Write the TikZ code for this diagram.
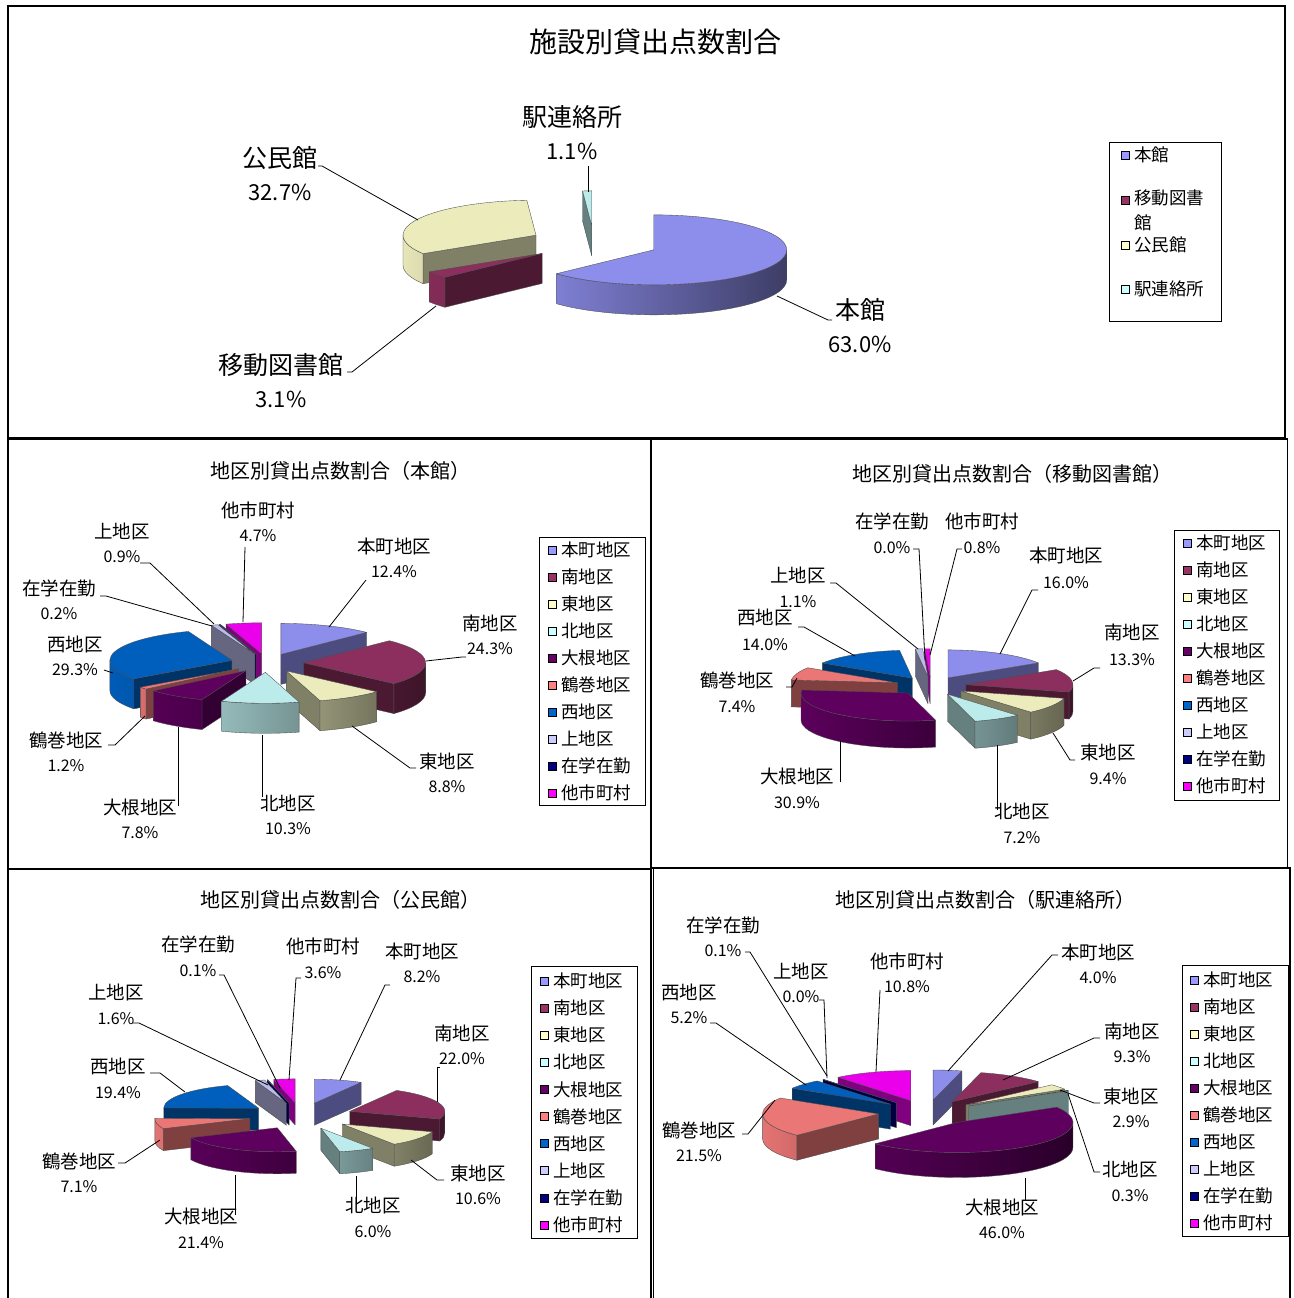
\documentclass[tikz,border=0pt]{standalone}
\usepackage{fontspec}
\setmainfont{Noto Sans CJK JP}
\definecolor{cA}{HTML}{9999FF}
\definecolor{cB}{HTML}{993366}
\definecolor{cC}{HTML}{FFFFCC}
\definecolor{cD}{HTML}{CCFFFF}
\definecolor{cE}{HTML}{660066}
\definecolor{cF}{HTML}{FF8080}
\definecolor{cG}{HTML}{0066CC}
\definecolor{cH}{HTML}{CCCCFF}
\definecolor{cI}{HTML}{000080}
\definecolor{cJ}{HTML}{FF00FF}
\newcommand\setpie[6]{\def\pCx{#1}\def\pCy{#2}\def\pRx{#3}\def\pRy{#4}\def\pDp{#5}\def\pE{#6}}
\newcommand\pslice[3]{%
  \pgfmathsetmacro\pMid{(#1+#2)/2}%
  \pgfmathsetmacro\pAx{\pCx+\pE*\pRx*cos(\pMid)}%
  \pgfmathsetmacro\pAy{\pCy+\pE*\pRy*sin(\pMid)}%
  \pgfmathsetmacro\pSx{\pAx+\pRx*cos(#1)}%
  \pgfmathsetmacro\pSy{\pAy+\pRy*sin(#1)}%
  \pgfmathsetmacro\pEx{\pAx+\pRx*cos(#2)}%
  \pgfmathsetmacro\pEy{\pAy+\pRy*sin(#2)}%
  \pgfmathtruncatemacro\pT{cos(#1) < -0.001 ? 1 : 0}%
  \ifnum\pT=1
    \filldraw[face,fill=#3!50!black] (\pAx,\pAy) -- (\pSx,\pSy) -- (\pSx,\pSy-\pDp) -- (\pAx,\pAy-\pDp) -- cycle;
  \fi
  \pgfmathtruncatemacro\pT{cos(#2) > 0.001 ? 1 : 0}%
  \ifnum\pT=1
    \filldraw[face,fill=#3!50!black] (\pAx,\pAy) -- (\pEx,\pEy) -- (\pEx,\pEy-\pDp) -- (\pAx,\pAy-\pDp) -- cycle;
  \fi
  \pgfmathsetmacro\pLo{max(#2,-180)}%
  \pgfmathsetmacro\pHi{min(#1,0)}%
  \pgfmathtruncatemacro\pT{\pHi > \pLo+0.01 ? 1 : 0}%
  \ifnum\pT=1
    \pgfmathtruncatemacro\pTl{40+25*(1-cos(\pLo))}%
    \pgfmathtruncatemacro\pTr{40+25*(1-cos(\pHi))}%
    \pgfmathsetmacro\pLx{\pAx+\pRx*cos(\pLo)}%
    \pgfmathsetmacro\pLy{\pAy+\pRy*sin(\pLo)}%
    \draw[face,left color=#3!\pTl!black,right color=#3!\pTr!black] (\pLx,\pLy) arc[start angle=\pLo,end angle=\pHi,x radius=\pRx pt,y radius=\pRy pt] -- ++(0,-\pDp) arc[start angle=\pHi,end angle=\pLo,x radius=\pRx pt,y radius=\pRy pt] -- cycle;
  \fi
  \filldraw[face,fill=#3!92!black] (\pAx,\pAy) -- (\pSx,\pSy) arc[start angle=#1,end angle=#2,x radius=\pRx pt,y radius=\pRy pt] -- cycle;
}
\newcommand\labA[5]{\node[nmA] (#1n) at (#2,-#3) {#4};\node[pcA] (#1p) at (#2,-#3-34) {#5};}
\newcommand\labB[6]{\node[nmB] (#1n) at (#2,-#3) {#4};\node[pcB] (#1p) at (#2,{-#3-#6}) {#5};}
\newcommand\legendten[4]{%
  \foreach \nm/\col [count=\i from 0] in {本町地区/cA,南地区/cB,東地区/cC,北地区/cD,大根地区/cE,鶴巻地区/cF,西地区/cG,上地区/cH,在学在勤/cI,他市町村/cJ}{
    \node[lsq,fill=\col] (#1s\i) at (#2,{-#3-\i*#4}) {};
    \node[lgt] (#1t\i) at (#2+9,{-#3-\i*#4}) {\nm};
  }}
\begin{document}
\begin{tikzpicture}[x=1pt,y=1pt,
  face/.style={draw=black!70,line width=0.35pt,line join=round},
  frm/.style={draw=black,line width=1.6pt},
  ldr/.style={draw=black,line width=0.8pt},
  ttlA/.style={font=\fontsize{28}{30}\selectfont,inner sep=0pt},
  ttlB/.style={font=\fontsize{20}{22}\selectfont,inner sep=0pt},
  nmA/.style={font=\fontsize{25}{27}\selectfont,inner sep=0pt},
  pcA/.style={font=\fontsize{22}{24}\selectfont,inner sep=0pt},
  nmB/.style={font=\fontsize{18.5}{20}\selectfont,inner sep=0pt},
  pcB/.style={font=\fontsize{16}{18}\selectfont,inner sep=0pt},
  lsq/.style={draw=black,line width=0.6pt,minimum size=8pt,inner sep=0pt},
  lgt/.style={font=\fontsize{17.5}{19}\selectfont,inner sep=0pt,anchor=west},
  lbox/.style={draw=black,line width=1pt}]
\useasboundingbox[fill=white] (0,0) rectangle (1293,-1298);

% ---------- frames ----------
\draw[frm] (8,-6) rectangle (1285,-438);
\draw[frm] (8,-439) rectangle (651,-869);
\draw[frm] (651,-439) rectangle (1287.5,-868);
\draw[frm] (8,-869) rectangle (651,-1300);
\draw[frm] (653.5,-868) rectangle (1290,-1300);

% ---------- chart 1 ----------
\node[ttlA] (t1) at (655,-42) {施設別貸出点数割合};
\setpie{594}{-243}{133}{35}{30}{0.49}
\pslice{-266.04}{-270}{cD}
\pslice{-148.2}{-266.04}{cC}
\pslice{90}{-137.03}{cA}
\pslice{-137.03}{-148.2}{cB}
\labA{a1}{572}{117}{駅連絡所}{1.1\%}
\labA{a2}{280}{158}{公民館}{32.7\%}
\labA{a3}{281}{365}{移動図書館}{3.1\%}
\labA{a4}{860}{310}{本館}{63.0\%}
\draw[ldr] (588,-166) coordinate (a1x) -- (588,-192) coordinate (a1y);
\draw[ldr] (318,-166) coordinate (a2x) -- (322,-166) -- (418,-220) coordinate (a2y);
\draw[ldr] (347,-372) coordinate (a3x) -- (352,-372) -- (436,-306) coordinate (a3y);
\draw[ldr] (777,-296) coordinate (a4x) -- (828,-320) -- (832,-320) coordinate (a4y);
\draw[lbox] (1109,-142) rectangle (1221,-321);
\node[lsq,fill=cA] (k1s1) at (1125,-155) {};
\node[lgt] (k1t1) at (1134,-155) {本館};
\node[lsq,fill=cB] (k1s2) at (1125,-200) {};
\node[lgt,anchor=north west,align=left,font=\fontsize{17.5}{25}\selectfont] (k1t2) at (1134,-190) {移動図書\\館};
\node[lsq,fill=cC] (k1s3) at (1125,-245) {};
\node[lgt] (k1t3) at (1134,-245) {公民館};
\node[lsq,fill=cD] (k1s4) at (1125,-289) {};
\node[lgt] (k1t4) at (1134,-289) {駅連絡所};

% ---------- chart 2 (本館) ----------
\node[ttlB] (t2) at (340,-471) {地区別貸出点数割合（本館）};
\setpie{267}{-663}{122}{31}{30}{0.3}
\pslice{-253.06}{-270}{cJ}
\pslice{-252.34}{-253.06}{cI}
\pslice{-249.10}{-252.34}{cH}
\pslice{90}{45.32}{cA}
\pslice{-143.51}{-249.10}{cG}
\pslice{45.32}{-42.25}{cB}
\pslice{-139.19}{-143.51}{cF}
\pslice{-111.08}{-139.19}{cE}
\pslice{-42.25}{-73.96}{cC}
\pslice{-73.96}{-111.08}{cD}
\labB{b1}{258}{510}{他市町村}{4.7\%}{26}
\labB{b2}{122}{531}{上地区}{0.9\%}{26}
\labB{b3}{59}{588}{在学在勤}{0.2\%}{26}
\labB{b4}{394}{546}{本町地区}{12.4\%}{26}
\labB{b5}{490}{623}{南地区}{24.3\%}{26}
\labB{b6}{75}{644}{西地区}{29.3\%}{26}
\labB{b7}{66}{740}{鶴巻地区}{1.2\%}{26}
\labB{b8}{447}{761}{東地区}{8.8\%}{26}
\labB{b9}{140}{807}{大根地区}{7.8\%}{26}
\labB{b10}{288}{803}{北地区}{10.3\%}{26}
\draw[ldr] (245,-547) coordinate (b1x) -- (243,-622) coordinate (b1y);
\draw[ldr] (140,-563) coordinate (b2x) -- (150,-563) -- (214,-624) coordinate (b2y);
\draw[ldr] (100,-596) coordinate (b3x) -- (106,-596) -- (212,-626) coordinate (b3y);
\draw[ldr] (366,-580) coordinate (b4x) -- (329,-627) coordinate (b4y);
\draw[ldr] (466,-657) coordinate (b5x) -- (462,-657) -- (426,-661) coordinate (b5y);
\draw[ldr] (104,-670) coordinate (b6x) -- (113,-673) coordinate (b6y);
\draw[ldr] (108,-745) coordinate (b7x) -- (115,-745) -- (145,-716) coordinate (b7y);
\draw[ldr] (416,-768) coordinate (b8x) -- (410,-768) -- (352,-726) coordinate (b8y);
\draw[ldr] (178,-806) coordinate (b9x) -- (178,-727) coordinate (b9y);
\draw[ldr] (262,-797) coordinate (b10x) -- (262,-735) coordinate (b10y);
\draw[lbox] (539,-537) rectangle (645,-805);
\legendten{k2}{552}{550}{27}

% ---------- chart 3 (移動図書館) ----------
\node[ttlB] (t3) at (1012,-474) {地区別貸出点数割合（移動図書館）};
\setpie{931}{-686}{107}{28}{27}{0.33}
\pslice{-267.12}{-270}{cJ}
\pslice{-263.17}{-267.12}{cH}
\pslice{90}{32.46}{cA}
\pslice{-212.82}{-263.17}{cG}
\pslice{-186.21}{-212.82}{cF}
\pslice{32.46}{-15.38}{cB}
\pslice{-15.38}{-49.18}{cC}
\pslice{-75.08}{-186.21}{cE}
\pslice{-49.18}{-75.08}{cD}
\labB{m1}{892}{521}{在学在勤}{0.0\%}{27}
\labB{m2}{982}{521}{他市町村}{0.8\%}{27}
\labB{m3}{1066}{555}{本町地区}{16.0\%}{28}
\labB{m4}{798}{575}{上地区}{1.1\%}{27}
\labB{m5}{765}{617}{西地区}{14.0\%}{28}
\labB{m6}{1132}{632}{南地区}{13.3\%}{28}
\labB{m7}{737}{680}{鶴巻地区}{7.4\%}{27}
\labB{m8}{1108}{752}{東地区}{9.4\%}{27}
\labB{m9}{797}{776}{大根地区}{30.9\%}{27}
\labB{m10}{1022}{811}{北地区}{7.2\%}{27}
\draw[ldr] (913,-549) coordinate (m1x) -- (919,-549) -- (925,-660) coordinate (m1y);
\draw[ldr] (962,-549) coordinate (m2x) -- (957,-549) -- (930,-655) coordinate (m2y);
\draw[ldr] (1038,-590) coordinate (m3x) -- (1032,-590) -- (1000,-654) coordinate (m3y);
\draw[ldr] (830,-583) coordinate (m4x) -- (836,-583) -- (918,-649) coordinate (m4y);
\draw[ldr] (798,-627) coordinate (m5x) -- (804,-627) -- (855,-656) coordinate (m5y);
\draw[ldr] (1100,-668) coordinate (m6x) -- (1094,-668) -- (1073,-681) coordinate (m6y);
\draw[ldr] (786,-687) coordinate (m7x) -- (792,-687) -- (797,-678) coordinate (m7y);
\draw[ldr] (1075,-760) coordinate (m8x) -- (1070,-760) -- (1053,-733) coordinate (m8y);
\draw[ldr] (840,-782) coordinate (m9x) -- (840,-741) coordinate (m9y);
\draw[ldr] (997,-810) coordinate (m10x) -- (997,-745) coordinate (m10y);
\draw[lbox] (1174,-530) rectangle (1279,-800);
\legendten{k3}{1187}{543}{27}

% ---------- chart 4 (公民館) ----------
\node[ttlB] (t4) at (340,-900) {地区別貸出点数割合（公民館）};
\setpie{301}{-1116}{95}{24}{22}{0.55}
\pslice{-257.04}{-270}{cJ}
\pslice{-256.68}{-257.04}{cI}
\pslice{90}{60.48}{cA}
\pslice{-250.92}{-256.68}{cH}
\pslice{-181.08}{-250.92}{cG}
\pslice{60.48}{-18.72}{cB}
\pslice{-155.52}{-181.08}{cF}
\pslice{-18.72}{-56.88}{cC}
\pslice{-78.48}{-155.52}{cE}
\pslice{-56.88}{-78.48}{cD}
\labB{p1}{198}{944}{在学在勤}{0.1\%}{27}
\labB{p2}{323}{946}{他市町村}{3.6\%}{27}
\labB{p3}{422}{951}{本町地区}{8.2\%}{26}
\labB{p4}{116}{992}{上地区}{1.6\%}{27}
\labB{p5}{462}{1033}{南地区}{22.0\%}{26}
\labB{p6}{118}{1066}{西地区}{19.4\%}{27}
\labB{p7}{79}{1161}{鶴巻地区}{7.1\%}{26}
\labB{p8}{478}{1173}{東地区}{10.6\%}{26}
\labB{p9}{201}{1216}{大根地区}{21.4\%}{27}
\labB{p10}{373}{1205}{北地区}{6.0\%}{27}
\draw[ldr] (219,-975) coordinate (p1x) -- (224,-975) -- (280,-1088) coordinate (p1y);
\draw[ldr] (301,-978) coordinate (p2x) -- (296,-978) -- (289,-1080) coordinate (p2y);
\draw[ldr] (390,-985) coordinate (p3x) -- (385,-985) -- (340,-1080) coordinate (p3y);
\draw[ldr] (133,-1023) coordinate (p4x) -- (139,-1023) -- (268,-1085) coordinate (p4y);
\draw[ldr] (440,-1067) coordinate (p5x) -- (437,-1067) -- (437,-1102) coordinate (p5y);
\draw[ldr] (150,-1073) coordinate (p6x) -- (160,-1073) -- (185,-1092) coordinate (p6y);
\draw[ldr] (118,-1163) coordinate (p7x) -- (125,-1163) -- (160,-1140) coordinate (p7y);
\draw[ldr] (444,-1180) coordinate (p8x) -- (437,-1180) -- (411,-1160) coordinate (p8y);
\draw[ldr] (235,-1215) coordinate (p9x) -- (235,-1175) coordinate (p9y);
\draw[ldr] (356,-1203) coordinate (p10x) -- (356,-1176) coordinate (p10y);
\draw[lbox] (531,-966) rectangle (637,-1238);
\legendten{k4}{544}{981}{27.1}

% ---------- chart 5 (駅連絡所) ----------
\node[ttlB] (t5) at (985,-900) {地区別貸出点数割合（駅連絡所）};
\setpie{927}{-1112.5}{116}{30}{25}{0.42}
\pslice{90}{75.61}{cA}
\pslice{-231.16}{-270}{cJ}
\pslice{75.61}{42.17}{cB}
\pslice{-230.80}{-231.16}{cI}
\pslice{-212.10}{-230.80}{cG}
\pslice{42.17}{31.74}{cC}
\pslice{31.74}{30.66}{cD}
\pslice{-134.78}{-212.10}{cF}
\pslice{30.66}{-134.78}{cE}
\labB{r1}{723}{925}{在学在勤}{0.1\%}{26}
\labB{r2}{801}{971}{上地区}{0.0\%}{26}
\labB{r3}{907}{961}{他市町村}{10.8\%}{26}
\labB{r4}{1098}{952}{本町地区}{4.0\%}{26}
\labB{r5}{689}{992}{西地区}{5.2\%}{26}
\labB{r6}{1132}{1031}{南地区}{9.3\%}{26}
\labB{r7}{1131}{1096}{東地区}{2.9\%}{26}
\labB{r8}{699}{1130}{鶴巻地区}{21.5\%}{26}
\labB{r9}{1130}{1169}{北地区}{0.3\%}{27}
\labB{r10}{1002}{1207}{大根地区}{46.0\%}{26}
\draw[ldr] (745,-952) coordinate (r1x) -- (750,-952) -- (827,-1076) coordinate (r1y);
\draw[ldr] (819,-1000) coordinate (r2x) -- (824,-1000) -- (827,-1078) coordinate (r2y);
\draw[ldr] (880,-990) coordinate (r3x) -- (876,-1072) coordinate (r3y);
\draw[ldr] (1058,-955) coordinate (r4x) -- (1052,-955) -- (948,-1071) coordinate (r4y);
\draw[ldr] (710,-1023) coordinate (r5x) -- (716,-1023) -- (806,-1085) coordinate (r5y);
\draw[ldr] (1100,-1038) coordinate (r6x) -- (1094,-1038) -- (1003,-1080) coordinate (r6y);
\draw[ldr] (1100,-1103) coordinate (r7x) -- (1094,-1103) -- (1060,-1090) coordinate (r7y);
\draw[ldr] (742,-1134) coordinate (r8x) -- (748,-1134) -- (775,-1100) coordinate (r8y);
\draw[ldr] (1100,-1172) coordinate (r9x) -- (1094,-1172) -- (1068,-1094) coordinate (r9y);
\draw[ldr] (1025,-1200) coordinate (r10x) -- (1025,-1178) coordinate (r10y);
\draw[lbox] (1182,-965) rectangle (1288,-1236);
\legendten{k5}{1194}{980}{27}
\end{tikzpicture}
\end{document}
